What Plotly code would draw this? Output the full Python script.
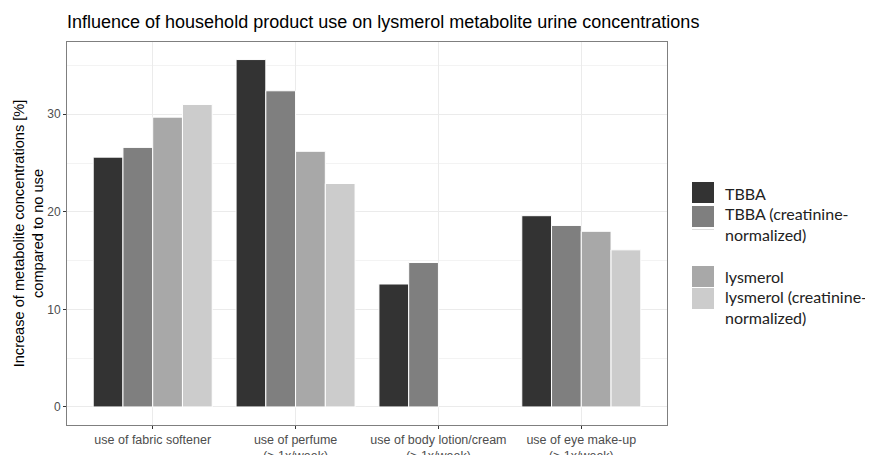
import plotly.graph_objects as go

categories = ["use of fabric softener", "use of perfume<br>(> 1x/week)",
              "use of body lotion/cream<br>(> 1x/week)", "use of eye make-up<br>(> 1x/week)"]
series_names = ["TBBA", "TBBA (creatinine-<br>normalized)", "lysmerol", "lysmerol (creatinine-<br>normalized)"]
tbba = [25.6, 35.6, 12.6, 19.6]
tbba_cn = [26.6, 32.4, 14.8, 18.6]
lysmerol = [29.7, 26.2, None, 18.0]
lysmerol_cn = [31.0, 22.9, None, 16.1]
colors = ["#333333", "#7f7f7f", "#a8a8a8", "#cccccc"]
y_ticks = [0, 10, 20, 30]

# page body has an 8px margin: figure is sized/placed to compensate
OFF = 8
W, H = 873 - OFF, 455 - OFF
L, T, R, B = 67 - OFF, 42 - OFF, 873 - 667, 455 - 425 - OFF + 8

fig = go.Figure()
for name, vals, c in zip(series_names, [tbba, tbba_cn, lysmerol, lysmerol_cn], colors):
    fig.add_trace(go.Bar(x=categories, y=vals, name=name,
                         marker=dict(color=c, line=dict(color="white", width=1)),
                         showlegend=False))

fig.update_layout(
    width=W, height=H,
    margin=dict(l=L, r=R, t=T, b=B, autoexpand=False),
    paper_bgcolor="white", plot_bgcolor="white",
    barmode="group", bargap=0.167, bargroupgap=0,
    font=dict(family="Liberation Sans, Arial", color="#4d4d4d"),
    title=dict(text="Influence of household product use on lysmerol metabolite urine concentrations",
               x=(67 - OFF) / W, xanchor="left", y=1 - (22 - OFF) / H, yanchor="middle",
               font=dict(size=18, color="black")),
)
fig.update_xaxes(type="category", range=[-0.6, 3.6], showgrid=True, gridcolor="#ebebeb", gridwidth=1,
                 ticks="outside", ticklen=3, tickcolor="#333333", automargin=False,
                 showline=True, mirror=True, linecolor="#7f7f7f", linewidth=1,
                 tickfont=dict(size=12.5, color="#4d4d4d"))
fig.update_yaxes(range=[-1.85, 37.4], tickvals=y_ticks, showgrid=True, gridcolor="#ebebeb", gridwidth=1,
                 minor=dict(dtick=5, showgrid=True, gridcolor="#f3f3f3"),
                 ticks="outside", ticklen=3, tickcolor="#333333", zeroline=False, automargin=False,
                 showline=True, mirror=True, linecolor="#7f7f7f", linewidth=1,
                 tickfont=dict(size=12, color="#4d4d4d"),
                 title=dict(text="Increase of metabolite concentrations [%]<br>compared to no use",
                            font=dict(size=14.6, color="black"), standoff=0))

# legend drawn manually (paper coordinates = plot area)
PW, PH = 600, 383
def px(x): return (x - 67) / PW
def py(y): return 1 - (y - 42) / PH
leg = [
    (182, 203, 193),
    (206, 227, 223.5),
    (266, 287, 276),
    (288, 309, 306.5),
]
for (y0, y1, ty), c, name in zip(leg, colors, series_names):
    fig.add_shape(type="rect", xref="paper", yref="paper", x0=px(692), x1=px(714), y0=py(y1), y1=py(y0),
                  fillcolor=c, line=dict(width=0), layer="above")
    fig.add_annotation(xref="paper", yref="paper", x=px(723), y=py(ty), text=name, showarrow=False,
                       xanchor="left", yanchor="middle", align="left",
                       font=dict(family="Lato, Open Sans", size=16, color="#222222"))
fig.add_shape(type="line", xref="paper", yref="paper", x0=px(692), x1=px(714), y0=py(229.5), y1=py(229.5),
              line=dict(color="#dddddd", width=1), layer="above")

fig.write_html("out.html")
